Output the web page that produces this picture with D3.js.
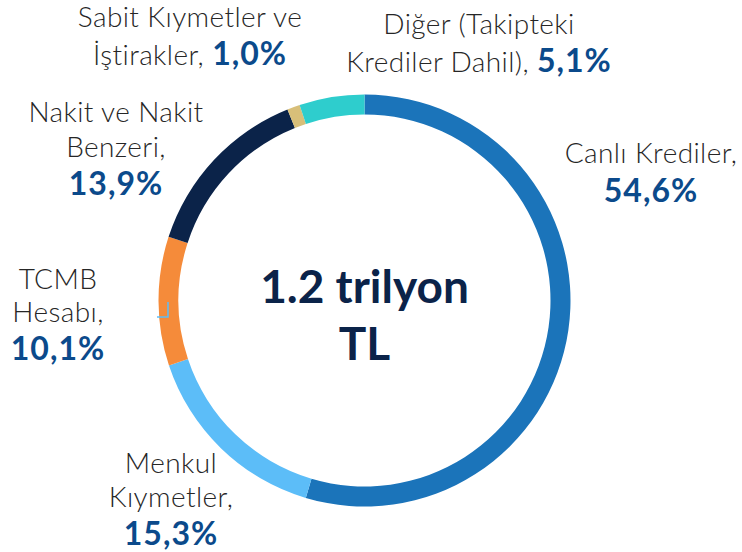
<!DOCTYPE html>
<html>
<head>
<meta charset="utf-8">
<script src="https://cdn.jsdelivr.net/npm/d3@7"></script>
<style>
  body { margin: 0; background: #fff; }
  svg { display: block; }
  .lbl { font-family: Lato, "Open Sans", sans-serif; font-weight: 300; fill: #262626; letter-spacing: 0.4px; }
  .pct { font-family: Lato, "Open Sans", sans-serif; font-weight: 700; fill: #0b4a8b; letter-spacing: 1px; }
</style>
</head>
<body>
<div id="chart"></div>
<script>
// data, clockwise from 12 o'clock
const categories = ["Canlı Krediler", "Menkul Kıymetler", "TCMB Hesabı", "Nakit ve Nakit Benzeri", "Sabit Kıymetler ve İştirakler", "Diğer (Takipteki Krediler Dahil)"];
const shares = [54.6, 15.3, 10.1, 13.9, 1.0, 5.1];
const colors = ["#1b74ba", "#5cbdf8", "#f58b3a", "#0b2349", "#d8bf79", "#2ecdcd"];
const shareText = ["54,6%", "15,3%", "10,1%", "13,9%", "1,0%", "5,1%"];
// label text lines (a line with a second entry carries the percentage)
const labelLines = [
  [["Canlı Krediler,"], ["", 0]],
  [["Menkul"], ["Kıymetler,"], ["", 0]],
  [["TCMB"], ["Hesabı,"], ["", 0]],
  [["Nakit ve  Nakit"], ["Benzeri,"], ["", 0]],
  [["Sabit Kıymetler ve"], ["İştirakler, ", 1]],
  [["Diğer (Takipteki"], ["Krediler Dahil),  ", 1]]
];
const totalText = ["1.2 trilyon", "TL"];

// layout: anchor x and baseline of each line
const width = 742, height = 552;
const cx = 364.5, cy = 300.5, outerR = 206, innerR = 186;
const labelAnchor = [
  {x: 651, ys: [163, 202]},
  {x: 171, ys: [473, 507, 545]},
  {x: 58, ys: [289, 322, 360]},
  {x: 116, ys: [122, 157, 195]},
  {x: 190, ys: [27, 65]},
  {x: 479, ys: [34, 72]}
];

const svg = d3.select("#chart")
  .append("svg")
    .attr("width", width)
    .attr("height", height);

const pie = d3.pie().sort(null).value(d => d);
const arc = d3.arc().innerRadius(innerR).outerRadius(outerR);

const g = svg.append("g").attr("transform", "translate(" + cx + "," + cy + ")");

g.selectAll("path.slice")
  .data(pie(shares))
  .enter()
  .append("path")
    .attr("class", "slice")
    .attr("d", arc)
    .attr("fill", (d, i) => colors[i]);

// small leftover leader tick on the orange slice
svg.append("path")
  .attr("d", "M168,302 L168,317 L157,317")
  .attr("fill", "none")
  .attr("stroke", "#5cbdf8")
  .attr("stroke-width", 1.5);

// centre total
g.selectAll("text.total")
  .data(totalText)
  .enter()
  .append("text")
    .attr("class", "total")
    .attr("text-anchor", "middle")
    .attr("y", (d, i) => 2 + i * 57)
    .style("font-family", "Lato, 'Open Sans', sans-serif")
    .style("font-weight", 700)
    .style("font-size", "46px")
    .style("fill", "#0b2349")
    .text(d => d);

// slice labels
labelLines.forEach(function(lines, i) {
  const a = labelAnchor[i];
  lines.forEach(function(line, j) {
    const t = svg.append("text")
      .attr("x", a.x)
      .attr("y", a.ys[j])
      .attr("text-anchor", "middle");
    if (line.length === 1) {
      t.append("tspan").attr("class", "lbl").style("font-size", "28px").text(line[0]);
    } else {
      if (line[0]) t.append("tspan").attr("class", "lbl").style("font-size", "28px").text(line[0]);
      t.append("tspan").attr("class", "pct").style("font-size", "32px").text(shareText[i]);
    }
  });
});
</script>
</body>
</html>
